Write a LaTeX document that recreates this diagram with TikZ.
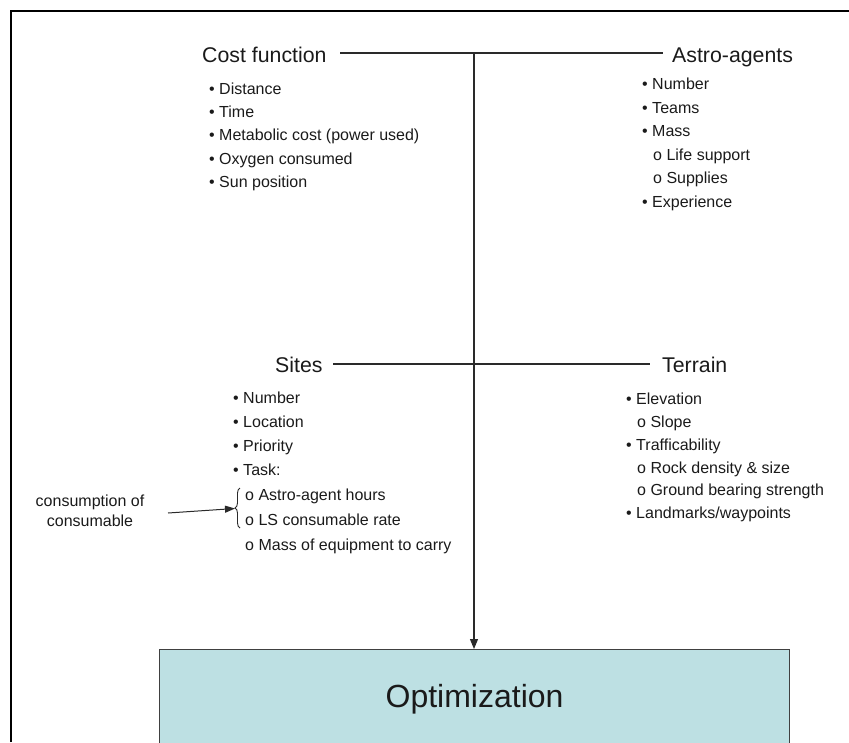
\documentclass[tikz,border=0pt]{standalone}
\usepackage{fontspec}
\setmainfont{Liberation Sans}
\usetikzlibrary{arrows.meta,decorations.pathreplacing}
\definecolor{txt}{HTML}{1A1A1A}
\definecolor{optfill}{HTML}{BDE0E3}
\definecolor{optline}{HTML}{404040}
\definecolor{connc}{HTML}{2A2A2A}
\begin{document}
\begin{tikzpicture}[x=1pt,y=-1pt,
  ttl/.style={anchor=base west,inner sep=0pt,text=txt,font=\fontsize{21.3}{25}\selectfont},
  bul/.style={anchor=base west,inner sep=0pt,text=txt,font=\fontsize{16}{19}\selectfont},
  conn/.style={draw=connc,line width=1.1pt},
  tipped/.style={-{Triangle[length=10pt,width=8pt]}}]
\useasboundingbox (0,0) rectangle (849,742);
\clip (0,0) rectangle (849,742);
% frame
\draw[line width=2pt,black] (11,742) -- (11,11) -- (849,11);

% titles
\node[ttl] (cost) at (202,62) {Cost function};
\node[ttl] (astro) at (672,62.5) {Astro-agents};
\node[ttl] (sites) at (275,372) {Sites};
\node[ttl] (terr) at (662,372) {Terrain};

% cost function items
\node[bul] (c1) at (209,94) {• Distance};
\node[bul] (c2) at (209,117) {• Time};
\node[bul] (c3) at (209,140.5) {• Metabolic cost (power used)};
\node[bul] (c4) at (209,164) {• Oxygen consumed};
\node[bul] (c5) at (209,187.5) {• Sun position};

% astro-agents items
\node[bul] (a1) at (642,89.5) {• Number};
\node[bul] (a2) at (642,113) {• Teams};
\node[bul] (a3) at (642,136.5) {• Mass};
\node[bul] (a4) at (653,160) {o Life support};
\node[bul] (a5) at (653,183.5) {o Supplies};
\node[bul] (a6) at (642,207) {• Experience};

% sites items
\node[bul] (s1) at (233,403) {• Number};
\node[bul] (s2) at (233,427) {• Location};
\node[bul] (s3) at (233,451) {• Priority};
\node[bul] (s4) at (233,475) {• Task:};
\node[bul] (s5) at (245,500) {o Astro-agent hours};
\node[bul] (s6) at (245,525) {o LS consumable rate};
\node[bul] (s7) at (245,550.5) {o Mass of equipment to carry};

% terrain items
\node[bul] (t1) at (626,404) {• Elevation};
\node[bul] (t2) at (637,427) {o Slope};
\node[bul] (t3) at (626,450) {• Trafficability};
\node[bul] (t4) at (637,473) {o Rock density \& size};
\node[bul] (t5) at (637,495.5) {o Ground bearing strength};
\node[bul] (t6) at (626,518.5) {• Landmarks/waypoints};

% side note
\node[bul,anchor=base] (n1) at (90,506.5) {consumption of};
\node[bul,anchor=base] (n2) at (90,526) {consumable};

% optimization box
\node[draw=optline,line width=1.1pt,fill=optfill,anchor=north west,
      minimum width=630pt,minimum height=99pt,inner sep=0pt,text=txt,
      font=\fontsize{32}{38}\selectfont] (opt) at (159,649) {Optimization};

% connectors
\coordinate (l1a) at (340,53);
\coordinate (l1b) at (663,53);
\coordinate (l2a) at (333,364);
\coordinate (l2b) at (650,364);
\coordinate (top) at (474,53);
\draw[conn] (l1a) -- (l1b);
\draw[conn] (l2a) -- (l2b);
\draw[conn,tipped] (top) -- (top |- opt.north);

% brace and arrow
\draw[conn,line width=0.9pt,decorate,decoration={brace,amplitude=5pt}] (240,528) -- (240,488);
\coordinate (bt) at (235,508.5);
\coordinate (as) at (168,513);
\draw[conn,line width=1pt,-{Triangle[length=10pt,width=7pt]}] (as) -- (bt);
\end{tikzpicture}
\end{document}
